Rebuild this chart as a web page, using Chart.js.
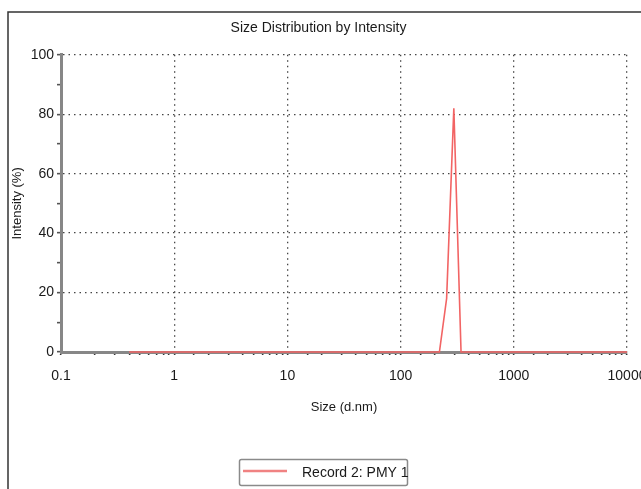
<!DOCTYPE html>
<html>
<head>
<meta charset="utf-8">
<script src="https://cdn.jsdelivr.net/npm/chart.js@4.4.0/dist/chart.umd.min.js"></script>
<style>
  html, body { margin: 0; padding: 0; background: #fff; overflow: hidden; }
</style>
</head>
<body>
<canvas id="grafica-1" width="641" height="489"></canvas>
<script>
// datos
const sizes = [0.4, 220.2, 255.0, 295.3, 342.0, 10000];
const intensity = [0, 0, 18, 82, 0, 0];
const xTicks = [0.1, 1, 10, 100, 1000, 10000];
const yTicks = [0, 20, 40, 60, 80, 100];
const serieName = 'Record 2: PMY 1';

const fuente = "'Liberation Sans Narrow', 'Arial Narrow', 'Liberation Sans', Arial, sans-serif";
const rojo = 'rgb(242, 100, 100)';
const gris = 'rgb(135, 135, 135)';
const puntos = 'rgb(70, 70, 70)';

const esDecada = (v) => xTicks.some((t) => Math.abs(t - v) / t < 1e-6);

// marco exterior y leyenda
const marco = {
  id: 'marco',
  afterDraw(chart) {
    const ctx = chart.ctx;
    ctx.save();
    ctx.strokeStyle = '#333';
    ctx.lineWidth = 1.5;
    ctx.beginPath();
    ctx.moveTo(8, 489);
    ctx.lineTo(8, 12);
    ctx.lineTo(641, 12);
    ctx.stroke();

    // caja de la leyenda
    ctx.strokeStyle = '#8a8a8a';
    ctx.lineWidth = 1.5;
    ctx.beginPath();
    ctx.roundRect(239.5, 459.5, 168, 26, 2);
    ctx.stroke();
    ctx.strokeStyle = 'rgb(240, 130, 130)';
    ctx.lineWidth = 2.5;
    ctx.beginPath();
    ctx.moveTo(243, 471);
    ctx.lineTo(287, 471);
    ctx.stroke();
    ctx.fillStyle = '#1a1a1a';
    ctx.font = '14px ' + fuente;
    ctx.textBaseline = 'middle';
    ctx.fillText(chart.data.datasets[0].label, 302, 473);
    ctx.restore();
  }
};

const data = {
  datasets: [{
    label: serieName,
    data: sizes.map((s, i) => ({ x: s, y: intensity[i] })),
    borderColor: rojo,
    backgroundColor: rojo,
    borderWidth: 1.6,
    pointRadius: 0,
    showLine: true,
    tension: 0,
    clip: false
  }]
};

const config = {
  type: 'scatter',
  data: data,
  plugins: [marco],
  options: {
    responsive: false,
    animation: false,
    layout: { padding: { left: 10, right: 14, top: 12, bottom: 74 }, autoPadding: false },
    plugins: {
      legend: { display: false },
      tooltip: { enabled: false },
      title: {
        display: true,
        text: 'Size Distribution by Intensity',
        color: '#1a1a1a',
        font: { family: fuente, size: 14, weight: 'normal', lineHeight: 1.2 },
        padding: { top: 8, bottom: 18 }
      }
    },
    scales: {
      x: {
        type: 'logarithmic',
        min: 0.1,
        max: 10000,
        afterFit: (scale) => {
          scale.height = 63;
          scale.paddingLeft = 0;
          scale.paddingRight = 0;
        },
        border: { display: true, color: gris, width: 3, dash: [1.5, 4] },
        grid: {
          color: (c) => c.tick && esDecada(c.tick.value) ? puntos : 'transparent',
          lineWidth: 1.3,
          drawTicks: true,
          tickLength: 3,
          tickWidth: 1.6,
          tickColor: '#333'
        },
        ticks: {
          autoSkip: false,
          maxRotation: 0,
          padding: 13,
          color: '#1a1a1a',
          font: { family: fuente, size: 14 },
          callback: (v) => esDecada(v) ? String(v) : ''
        },
        title: {
          display: true,
          text: 'Size (d.nm)',
          color: '#1a1a1a',
          font: { family: fuente, size: 13 },
          padding: { top: 0, bottom: 0 }
        }
      },
      y: {
        min: 0,
        max: 100,
        afterFit: (scale) => { scale.width = 51; },
        border: { display: true, color: gris, width: 3, dash: [1.5, 4] },
        grid: {
          color: (c) => c.tick && c.tick.value > 0 && yTicks.includes(c.tick.value) ? puntos : 'transparent',
          lineWidth: 1.3,
          tickLength: 4,
          tickWidth: 1.6,
          tickColor: '#555'
        },
        ticks: {
          stepSize: 10,
          padding: 3,
          color: '#1a1a1a',
          font: { family: fuente, size: 14 },
          callback: (v) => yTicks.includes(v) ? String(v) : ''
        },
        title: {
          display: true,
          text: 'Intensity (%)',
          color: '#1a1a1a',
          font: { family: fuente, size: 13 },
          padding: { top: 0, bottom: 0 }
        }
      }
    }
  }
};

const myChart = new Chart(document.getElementById('grafica-1'), config);
</script>
</body>
</html>
